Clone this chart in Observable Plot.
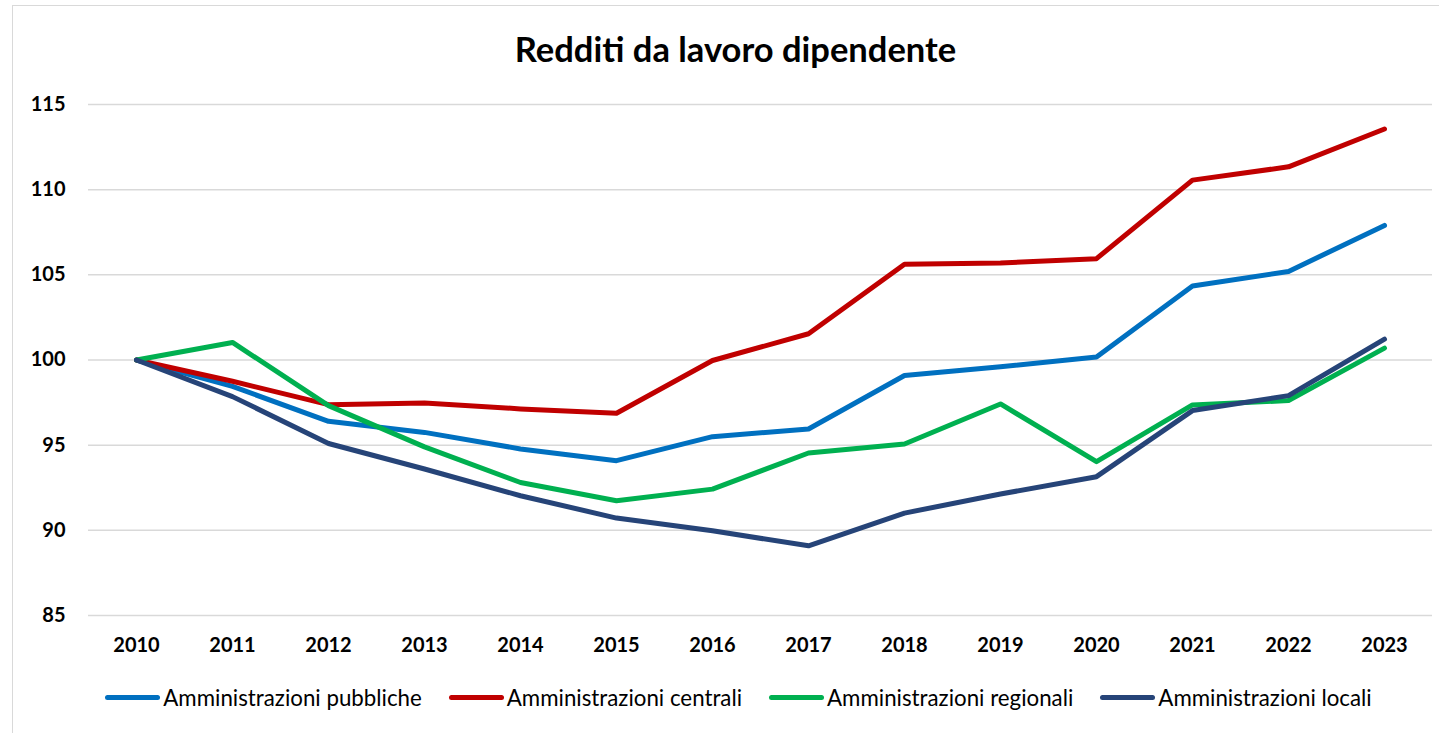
<!DOCTYPE html>
<html>
<head>
<meta charset="utf-8">
<script src="https://cdn.jsdelivr.net/npm/d3@7"></script>
<script src="https://cdn.jsdelivr.net/npm/@observablehq/plot@0.6"></script>
<style>
  html, body { margin: 0; padding: 0; background: #fff; overflow: hidden; }
  body { width: 1439px; height: 733px; position: relative; font-family: Lato, "Open Sans", sans-serif; }
  #frame { position: absolute; left: 12px; top: 5px; width: 1440px; height: 740px; border: 1.5px solid #d9d9d9; box-sizing: border-box; }
  #title { position: absolute; left: 16px; top: 0; width: 1439px; height: 80px; text-align: center; line-height: 98px; font-size: 34.5px; font-weight: 700; color: #000; }
  #chart { position: absolute; left: 0; top: 80px; }
  #legend { position: absolute; left: 19px; top: 680px; width: 1439px; height: 34px; display: flex; justify-content: center; align-items: center; gap: 27px; }
  .item { display: flex; align-items: center; font-size: 22.3px; color: #000; }
  .sw { width: 55px; height: 5px; border-radius: 3px; margin-right: 3px; }
</style>
</head>
<body>
<div id="frame"></div>
<div id="title">Redditi da lavoro dipendente</div>
<div id="chart"></div>
<div id="legend"></div>
<script>
const years = ["2010","2011","2012","2013","2014","2015","2016","2017","2018","2019","2020","2021","2022","2023"];
const pubbliche = [100, 98.45, 96.4, 95.75, 94.78, 94.09, 95.5, 95.95, 99.09, 99.6, 100.17, 104.34, 105.2, 107.9];
const centrali  = [100, 98.75, 97.38, 97.48, 97.13, 96.87, 99.97, 101.54, 105.62, 105.69, 105.95, 110.56, 111.34, 113.56];
const regionali = [100, 101.03, 97.32, 94.9, 92.81, 91.74, 92.42, 94.54, 95.07, 97.42, 94.03, 97.36, 97.62, 100.7];
const locali    = [100, 97.85, 95.1, 93.6, 92.03, 90.72, 89.97, 89.09, 91.01, 92.13, 93.15, 97.03, 97.91, 101.22];
const seriesNames = ["Amministrazioni pubbliche", "Amministrazioni centrali", "Amministrazioni regionali", "Amministrazioni locali"];
const seriesColors = ["#0070C0", "#C00000", "#00B050", "#264478"];
const yTicks = [85, 90, 95, 100, 105, 110, 115];

const allSeries = [pubbliche, centrali, regionali, locali];
const rows = allSeries.flatMap((vals, i) => vals.map((v, j) => ({year: years[j], value: v, series: seriesNames[i]})));

const plot = Plot.plot({
  width: 1439,
  height: 600,
  marginLeft: 88,
  marginRight: 7,
  marginTop: 24,
  marginBottom: 65,
  style: {fontFamily: "Lato, 'Open Sans', sans-serif", background: "transparent"},
  x: {type: "point", domain: years, padding: 0.5, label: null},
  y: {domain: [85, 115], label: null},
  color: {domain: seriesNames, range: seriesColors},
  marks: [
    Plot.ruleY(yTicks, {stroke: "#d9d9d9", strokeWidth: 1.5}),
    Plot.axisY({ticks: yTicks, tickSize: 0, tickPadding: 23, fontSize: 20, fontWeight: 700, label: null, color: "#000"}),
    Plot.axisX({tickSize: 0, tickPadding: 22, fontSize: 20, fontWeight: 700, label: null}),
    Plot.line(rows, {x: "year", y: "value", z: "series", stroke: "series", strokeWidth: 5, strokeLinejoin: "round", strokeLinecap: "round"})
  ]
});
plot.querySelectorAll("text").forEach(t => t.setAttribute("fill", "#000"));
document.getElementById("chart").appendChild(plot);

const legend = document.getElementById("legend");
seriesNames.forEach((name, i) => {
  const item = document.createElement("div");
  item.className = "item";
  const sw = document.createElement("span");
  sw.className = "sw";
  sw.style.background = seriesColors[i];
  const lbl = document.createElement("span");
  lbl.textContent = name;
  item.appendChild(sw);
  item.appendChild(lbl);
  legend.appendChild(item);
});
</script>
</body>
</html>
